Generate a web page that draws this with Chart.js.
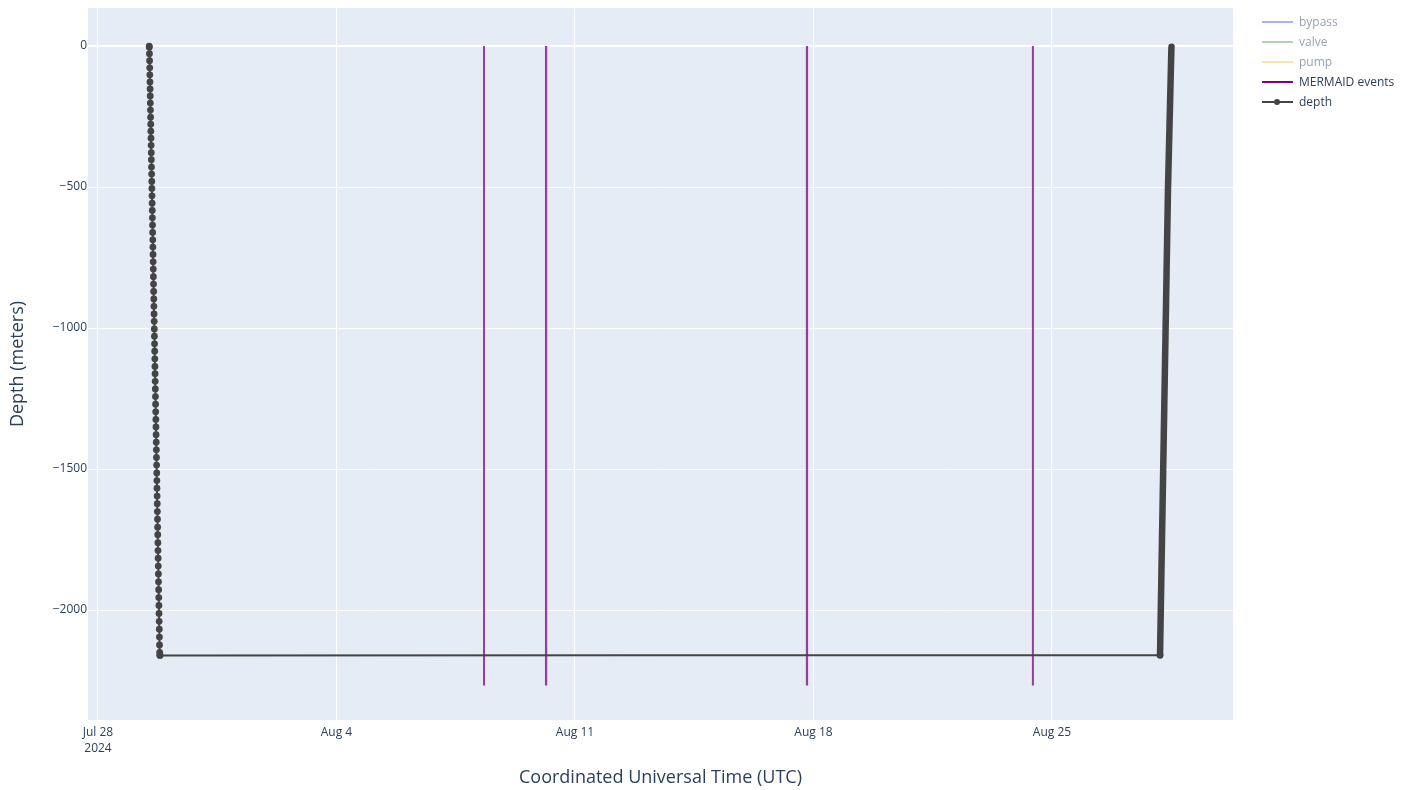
<!DOCTYPE html>
<html>
<head>
<meta charset="utf-8">
<title>MERMAID dive</title>
<script src="https://cdn.jsdelivr.net/npm/chart.js@4.4.1/dist/chart.umd.min.js"></script>
<style>
  body { margin: 0; background: #fff; font-family: "Open Sans", sans-serif; }
  #wrap { position: relative; width: 1417px; height: 790px; }
  .leg { position: absolute; left: 1262px; height: 16px; font-size: 12px; line-height: 16px; color: #2a3f5f; white-space: nowrap; }
  .leg .sw { position: absolute; left: 0; top: 7px; width: 31px; height: 2px; }
  .leg .dot { position: absolute; left: 12px; top: 5px; width: 6px; height: 6px; border-radius: 50%; background: #444; }
  .leg .t { position: absolute; left: 37px; top: 0; }
  .off { opacity: 0.5; }
</style>
</head>
<body>
<div id="wrap">
  <canvas id="diveChart" width="1417" height="790"></canvas>
  <div class="leg off" style="top:14px"><div class="sw" style="background:#0000ffa0"></div><span class="t">bypass</span></div>
  <div class="leg off" style="top:34px"><div class="sw" style="background:#008000a0"></div><span class="t">valve</span></div>
  <div class="leg off" style="top:54px"><div class="sw" style="background:#ffa500a0"></div><span class="t">pump</span></div>
  <div class="leg" style="top:74px"><div class="sw" style="background:#800080"></div><span class="t">MERMAID events</span></div>
  <div class="leg" style="top:94px"><div class="sw" style="background:#444"></div><div class="dot"></div><span class="t">depth</span></div>
</div>
<script>
// x values are days since 2024-07-28 00:00 UTC
const tickDays = [0, 7, 14, 21, 28];
const tickLabels = [['Jul 28', '2024'], 'Aug 4', 'Aug 11', 'Aug 18', 'Aug 25'];
const depthTicks = [0, -500, -1000, -1500, -2000];

const descentDay = [
  1.503, 1.506, 1.510, 1.514, 1.518, 1.521, 1.525, 1.529, 1.533, 1.536,
  1.540, 1.544, 1.548, 1.551, 1.555, 1.559, 1.563, 1.566, 1.570, 1.574,
  1.578, 1.581, 1.585, 1.589, 1.593, 1.596, 1.600, 1.604, 1.608, 1.611,
  1.615, 1.619, 1.623, 1.626, 1.630, 1.634, 1.638, 1.641, 1.645, 1.649,
  1.653, 1.656, 1.660, 1.664, 1.668, 1.671, 1.675, 1.679, 1.683, 1.686,
  1.690, 1.694, 1.698, 1.701, 1.705, 1.709, 1.713, 1.716, 1.720, 1.724,
  1.728, 1.731, 1.735, 1.739, 1.743, 1.746, 1.750, 1.754, 1.758, 1.761,
  1.765, 1.769, 1.773, 1.776, 1.780, 1.784, 1.788, 1.791, 1.795, 1.799,
  1.803, 1.806, 1.810, 1.815, 1.822
];
const descentDepth = [
  0, -4, -27, -52, -77, -102, -127, -152, -177, -202,
  -227, -252, -277, -302, -327, -352, -378, -403, -429, -454,
  -480, -505, -531, -557, -583, -609, -635, -661, -687, -713,
  -739, -765, -791, -818, -844, -870, -897, -923, -950, -976,
  -1003, -1029, -1056, -1082, -1109, -1136, -1162, -1189, -1216, -1243,
  -1270, -1297, -1324, -1351, -1378, -1405, -1432, -1459, -1486, -1514,
  -1541, -1568, -1596, -1623, -1651, -1678, -1706, -1733, -1761, -1789,
  -1816, -1844, -1872, -1900, -1928, -1956, -1984, -2012, -2040, -2068,
  -2096, -2124, -2150, -2160, -2161
];

const ascentDay = [
  31.171, 31.174, 31.177, 31.179, 31.182, 31.185, 31.188, 31.191, 31.194, 31.196,
  31.199, 31.202, 31.205, 31.208, 31.211, 31.213, 31.216, 31.219, 31.222, 31.225,
  31.228, 31.230, 31.233, 31.236, 31.239, 31.242, 31.245, 31.247, 31.250, 31.253,
  31.256, 31.259, 31.262, 31.264, 31.267, 31.270, 31.273, 31.276, 31.279, 31.281,
  31.284, 31.287, 31.290, 31.293, 31.296, 31.298, 31.301, 31.304, 31.307, 31.310,
  31.313, 31.315, 31.318, 31.321, 31.324, 31.327, 31.330, 31.332, 31.335, 31.338,
  31.341, 31.344, 31.347, 31.349, 31.352, 31.355, 31.358, 31.361, 31.363, 31.366,
  31.369, 31.372, 31.375, 31.378, 31.380, 31.383, 31.386, 31.389, 31.392, 31.395,
  31.397, 31.400, 31.403, 31.406,
  31.410, 31.414, 31.418, 31.422, 31.426, 31.430, 31.434, 31.438, 31.442, 31.446,
  31.450, 31.454, 31.458, 31.462, 31.466, 31.470, 31.474, 31.478, 31.482, 31.486,
  31.490, 31.494, 31.498, 31.502, 31.505, 31.508
];
const ascentDepth = [
  -2160, -2141, -2120, -2100, -2081, -2060, -2040, -2021, -2000, -1980,
  -1961, -1940, -1920, -1901, -1880, -1860, -1841, -1820, -1800, -1781,
  -1760, -1740, -1721, -1700, -1680, -1661, -1640, -1620, -1601, -1580,
  -1560, -1541, -1520, -1500, -1481, -1460, -1440, -1421, -1400, -1380,
  -1361, -1340, -1320, -1301, -1280, -1260, -1241, -1220, -1200, -1181,
  -1160, -1140, -1121, -1100, -1080, -1061, -1040, -1020, -1001, -980,
  -960, -941, -920, -900, -881, -860, -840, -821, -800, -780,
  -761, -740, -720, -701, -680, -660, -641, -620, -600, -581,
  -560, -540, -521, -500,
  -480, -461, -440, -420, -401, -380, -360, -341, -320, -300,
  -281, -260, -240, -221, -200, -180, -161, -140, -120, -101,
  -80, -60, -41, -20, -8, -2
];

const eventDay = [11.33, 13.148, 13.156, 20.806, 20.813, 27.44];
const eventTop = 0;
const eventBottom = -2268;

document.addEventListener('DOMContentLoaded', function() {
    const depthPoints = descentDay.map((d, i) => ({ x: d, y: descentDepth[i] }))
        .concat(ascentDay.map((d, i) => ({ x: d, y: ascentDepth[i] })));
    const eventPoints = eventDay.flatMap(d => [
        { x: d, y: eventTop }, { x: d, y: eventBottom }, { x: d, y: null }
    ]);
    const ascentStart = ascentDay[0];
    const onAscent = c => c.parsed && c.parsed.x > ascentStart;

    const plotBg = {
        id: 'plotBg',
        beforeDraw(chart) {
            const a = chart.chartArea;
            chart.ctx.save();
            chart.ctx.fillStyle = '#e5ecf6';
            chart.ctx.fillRect(a.left, a.top, a.right - a.left, a.bottom - a.top);
            chart.ctx.restore();
        }
    };

    const tickFont = { family: '"Open Sans", sans-serif', size: 12, lineHeight: 1.35 };
    const titleFont = { family: '"Open Sans", sans-serif', size: 18 };

    const ctx = document.getElementById('diveChart').getContext('2d');
    new Chart(ctx, {
        type: 'line',
        data: {
            datasets: [{
                label: 'depth',
                data: depthPoints,
                borderColor: '#444',
                backgroundColor: '#444',
                borderWidth: 2,
                borderCapStyle: 'round',
                borderJoinStyle: 'round',
                pointRadius: c => (onAscent(c) ? 0 : 3.4),
                pointBorderWidth: 0,
                // tiny tension keeps Chart.js off its pixel-snapping fast path
                tension: 0.0001,
                // the ascent was sampled densely: markers merge into a solid bar
                segment: {
                    borderWidth: c => (c.p0.parsed.x >= ascentStart ? 6.5 : 2)
                },
                order: 0
            }, {
                label: 'MERMAID events',
                data: eventPoints,
                borderColor: 'rgba(128, 0, 128, 0.75)',
                borderWidth: 2,
                pointRadius: 0,
                spanGaps: false,
                order: 1
            }, {
                label: 'bypass', data: [], hidden: true, borderColor: 'rgba(0,0,255,0.5)'
            }, {
                label: 'valve', data: [], hidden: true, borderColor: 'rgba(0,128,0,0.5)'
            }, {
                label: 'pump', data: [], hidden: true, borderColor: 'rgba(255,165,0,0.5)'
            }]
        },
        options: {
            responsive: false,
            animation: false,
            layout: { padding: { left: 0, right: 184, top: 8, bottom: 0 } },
            plugins: { legend: { display: false }, tooltip: { enabled: false } },
            scales: {
                x: {
                    type: 'linear',
                    min: -0.2935,
                    max: 33.313,
                    afterFit: s => { s.height = 70; s.paddingLeft = 0; s.paddingRight = 0; },
                    afterBuildTicks: s => { s.ticks = tickDays.map(v => ({ value: v })); },
                    grid: { color: '#ffffff', lineWidth: 1, drawTicks: false },
                    border: { display: false },
                    ticks: {
                        autoSkip: false, maxRotation: 0, padding: 4,
                        color: '#2a3f5f', font: tickFont,
                        callback: (v, i) => tickLabels[i]
                    },
                    title: {
                        display: true, text: 'Coordinated Universal Time (UTC)',
                        color: '#2a3f5f', font: titleFont, padding: { bottom: 1 }
                    }
                },
                y: {
                    min: -2390,
                    max: 135,
                    afterFit: s => { s.width = 88; s.paddingTop = 0; s.paddingBottom = 0; },
                    afterBuildTicks: s => { s.ticks = depthTicks.map(v => ({ value: v })); },
                    grid: {
                        color: '#ffffff', drawTicks: false,
                        lineWidth: c => (c.tick && c.tick.value === 0 ? 2 : 1)
                    },
                    border: { display: false },
                    ticks: {
                        padding: 1, color: '#2a3f5f', font: tickFont,
                        callback: v => (v < 0 ? '\u2212' + Math.abs(v) : String(v))
                    },
                    title: {
                        display: true, text: 'Depth (meters)',
                        color: '#2a3f5f', font: titleFont, padding: { top: 7 }
                    }
                }
            }
        },
        plugins: [plotBg]
    });
});
</script>
</body>
</html>
